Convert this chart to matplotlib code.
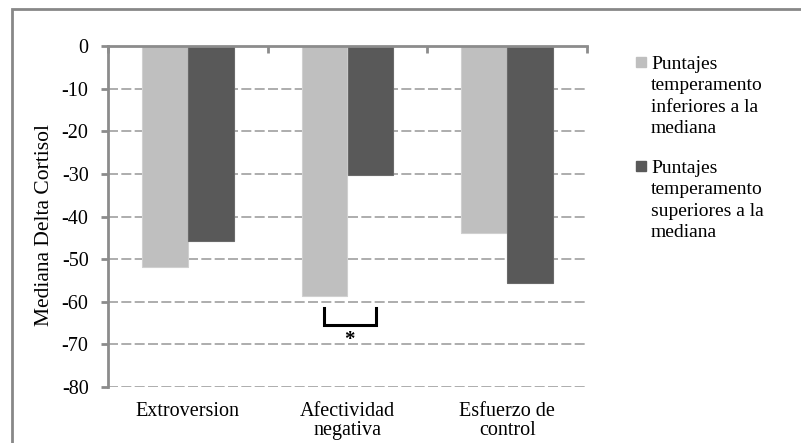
import matplotlib
matplotlib.use("Agg")
import matplotlib.pyplot as plt
from matplotlib.patches import Rectangle

categories = ["Extroversion", "Afectividad\nnegativa", "Esfuerzo de\ncontrol"]
inferiores = [-51.8, -58.6, -43.8]
superiores = [-45.7, -30.3, -55.6]
series_labels = ["Puntajes\ntemperamento\ninferiores a la\nmediana",
                 "Puntajes\ntemperamento\nsuperiores a la\nmediana"]
yticks = [0, -10, -20, -30, -40, -50, -60, -70, -80]

LIGHT = "#bfbfbf"
DARK = "#595959"
AXIS = "#8c8c8c"

plt.rcParams["font.family"] = ["Liberation Serif", "DejaVu Serif"]

fig = plt.figure(figsize=(8.01, 4.43), dpi=100)
ax = fig.add_axes([108 / 801, 1 - 387 / 443, (587 - 108) / 801, (387 - 46) / 443])

x = list(range(len(categories)))
w = 0.287
ax.bar([i - w / 2 for i in x], inferiores, w, color=LIGHT, edgecolor="#d0d0d0", linewidth=0.8, zorder=3)
ax.bar([i + w / 2 for i in x], superiores, w, color=DARK, edgecolor="#6a6a6a", linewidth=0.8, zorder=3)

ax.set_xlim(-0.5, 2.5)
ax.set_ylim(-80, 0)
ax.set_yticks(yticks)
ax.set_yticklabels([str(v) for v in yticks], fontsize=14.5)
for v in yticks[1:]:
    ax.axhline(v, color="#a0a0a0", lw=1.2, ls=(0, (6, 2)), zorder=1)

ax.set_xticks(x)
ax.set_xticklabels(categories, fontsize=14.5, linespacing=1.0)
ax.tick_params(axis="x", which="major", length=0, pad=11)
ax.set_xticks([-0.5, 0.5, 1.5, 2.5], minor=True)
ax.tick_params(axis="x", which="minor", top=True, bottom=False, direction="in",
               length=5, width=2, color=AXIS)
ax.tick_params(axis="y", length=5, width=2, color=AXIS, pad=9)

for s in ["right", "bottom"]:
    ax.spines[s].set_visible(False)
ax.spines["left"].set_color(AXIS)
ax.spines["left"].set_linewidth(2)
ax.spines["top"].set_color(AXIS)
ax.spines["top"].set_linewidth(2)
ax.spines["top"].set_zorder(4)

ax.set_ylabel("Mediana Delta Cortisol", fontsize=15.5)
ax.yaxis.set_label_coords(-0.113, 0.474)

# significance bracket between the Afectividad negativa bars
bx0, bx1 = 1 - 0.15, 1 + 0.178
ax.plot([bx0, bx0, bx1, bx1], [-61.5, -65.5, -65.5, -61.5], color="black", lw=2.2,
        solid_joinstyle="miter", zorder=5)
ax.text((bx0 + bx1) / 2, -66.6, "*", ha="center", va="top", fontsize=15, fontweight="bold")

# legend
for k, (lab, col) in enumerate(zip(series_labels, [LIGHT, DARK])):
    top = 57 + k * 104
    fig.patches.append(Rectangle((636 / 801, 1 - (top + 10) / 443), 10 / 801, 10 / 443,
                                 transform=fig.transFigure, color=col))
    fig.text(651 / 801, 1 - (top - 1) / 443, lab, fontsize=14, va="top", ha="left",
             linespacing=1.33)

# outer chart border
fig.patches.append(Rectangle((12 / 801, -0.1), 1.2, 1 - 9 / 443 + 0.1, transform=fig.transFigure,
                             fill=False, edgecolor="#888888", lw=2))

fig.savefig("out.png", dpi=100)
